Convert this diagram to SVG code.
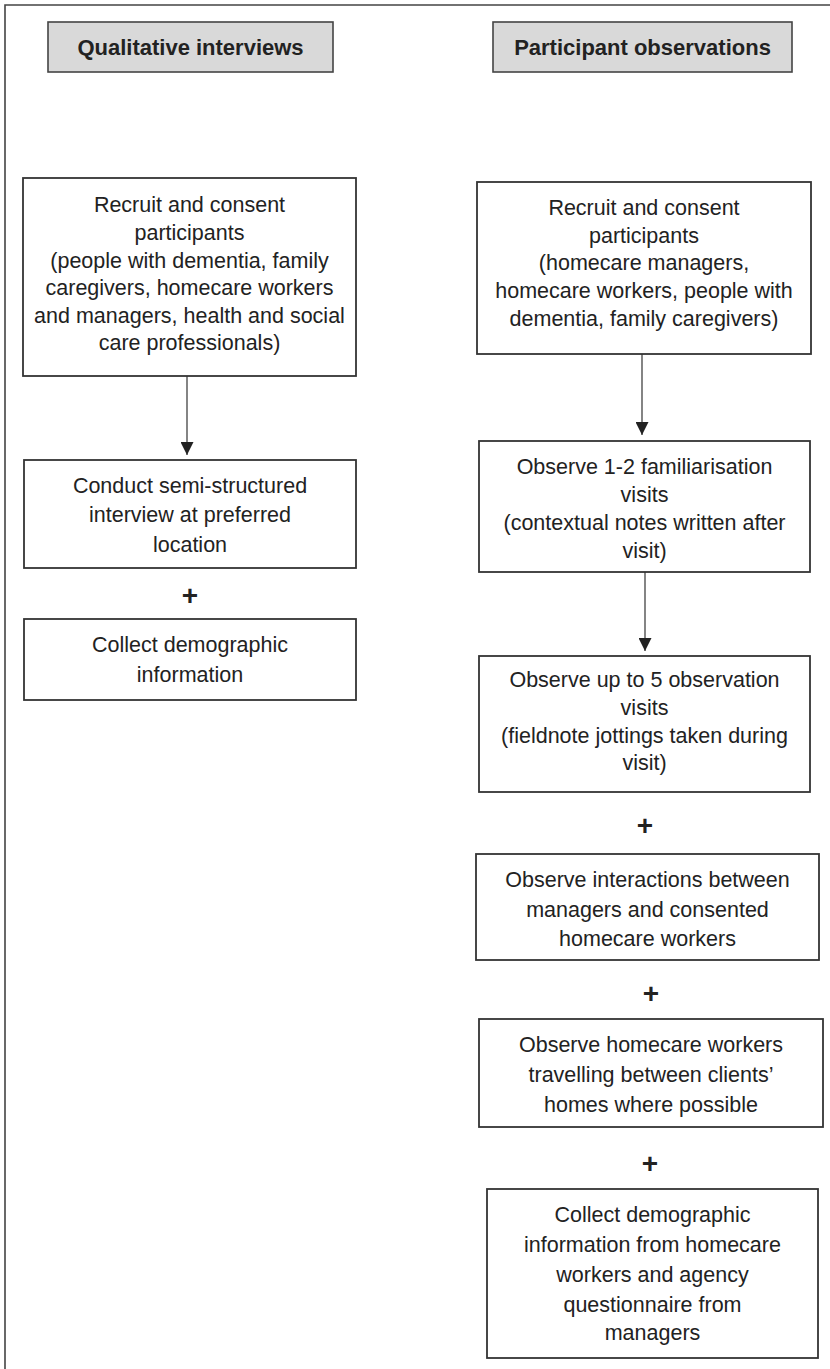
<svg xmlns="http://www.w3.org/2000/svg" width="830" height="1369" viewBox="0 0 830 1369">
<style>
.frame{stroke:#444;stroke-width:1.6;fill:none}
.box{fill:#fff;stroke:#333;stroke-width:1.8}
.hdr{fill:#d9d9d9;stroke:#444;stroke-width:1.6}
.ht{font-family:"Liberation Sans",Arial,sans-serif;font-weight:bold;font-size:22px;fill:#222;text-anchor:middle}
.t{font-family:"Liberation Sans",Arial,sans-serif;font-size:21.5px;fill:#222;text-anchor:middle}
.plus{font-family:"Liberation Sans",Arial,sans-serif;font-weight:bold;font-size:28px;fill:#222;text-anchor:middle}
.conn{stroke:#333;stroke-width:1.2;fill:none}
</style>
<defs>
<marker id="arr" markerWidth="13" markerHeight="13" refX="13" refY="6.5" orient="auto" markerUnits="userSpaceOnUse">
<path d="M0,0 L13,6.5 L0,13 Z" fill="#222"/>
</marker>
</defs>
<rect width="830" height="1369" fill="#fff"/>
<path class="frame" d="M5,1369 L5,5 L830,5"/>
<g id="hdr-left">
<rect class="hdr" x="48" y="22" width="285" height="50"/>
<text class="ht" x="190.5" y="55">Qualitative interviews</text>
</g>
<g id="hdr-right">
<rect class="hdr" x="493" y="22" width="299" height="50"/>
<text class="ht" x="642.5" y="55">Participant observations</text>
</g>
<g id="L1">
<rect class="box" x="23" y="178" width="333" height="198"/>
<text class="t" x="189.5" y="212">Recruit and consent</text>
<text class="t" x="189.5" y="240">participants</text>
<text class="t" x="189.5" y="268">(people with dementia, family</text>
<text class="t" x="189.5" y="295">caregivers, homecare workers</text>
<text class="t" x="189.5" y="323">and managers, health and social</text>
<text class="t" x="189.5" y="350">care professionals)</text>
</g>
<g id="L2">
<rect class="box" x="24" y="460" width="332" height="108"/>
<text class="t" x="190" y="493">Conduct semi-structured</text>
<text class="t" x="190" y="522">interview at preferred</text>
<text class="t" x="190" y="552">location</text>
</g>
<g id="plusL">
<text class="plus" x="190" y="605">+</text>
</g>
<g id="L3">
<rect class="box" x="24" y="619" width="332" height="81"/>
<text class="t" x="190" y="652">Collect demographic</text>
<text class="t" x="190" y="682">information</text>
</g>
<g id="R1">
<rect class="box" x="477" y="182" width="334" height="172"/>
<text class="t" x="644" y="215">Recruit and consent</text>
<text class="t" x="644" y="243">participants</text>
<text class="t" x="644" y="270">(homecare managers,</text>
<text class="t" x="644" y="298">homecare workers, people with</text>
<text class="t" x="644" y="326">dementia, family caregivers)</text>
</g>
<g id="R2">
<rect class="box" x="479" y="441" width="331" height="131"/>
<text class="t" x="644.5" y="474">Observe 1-2 familiarisation</text>
<text class="t" x="644.5" y="502">visits</text>
<text class="t" x="644.5" y="530">(contextual notes written after</text>
<text class="t" x="644.5" y="558">visit)</text>
</g>
<g id="R3">
<rect class="box" x="479" y="656" width="331" height="136"/>
<text class="t" x="644.5" y="687">Observe up to 5 observation</text>
<text class="t" x="644.5" y="715">visits</text>
<text class="t" x="644.5" y="743">(fieldnote jottings taken during</text>
<text class="t" x="644.5" y="770">visit)</text>
</g>
<g id="plusR1">
<text class="plus" x="645" y="835">+</text>
</g>
<g id="R4">
<rect class="box" x="476" y="854" width="343" height="106"/>
<text class="t" x="647.5" y="887">Observe interactions between</text>
<text class="t" x="647.5" y="917">managers and consented</text>
<text class="t" x="647.5" y="946">homecare workers</text>
</g>
<g id="plusR2">
<text class="plus" x="651" y="1003">+</text>
</g>
<g id="R5">
<rect class="box" x="479" y="1019" width="344" height="108"/>
<text class="t" x="651" y="1052">Observe homecare workers</text>
<text class="t" x="651" y="1082">travelling between clients’</text>
<text class="t" x="651" y="1112">homes where possible</text>
</g>
<g id="plusR3">
<text class="plus" x="650" y="1173">+</text>
</g>
<g id="R6">
<rect class="box" x="487" y="1189" width="331" height="169"/>
<text class="t" x="652.5" y="1222">Collect demographic</text>
<text class="t" x="652.5" y="1252">information from homecare</text>
<text class="t" x="652.5" y="1282">workers and agency</text>
<text class="t" x="652.5" y="1312">questionnaire from</text>
<text class="t" x="652.5" y="1340">managers</text>
</g>
<g id="connectors">
<line class="conn" x1="187" y1="376" x2="187" y2="455" marker-end="url(#arr)"/>
<line class="conn" x1="642" y1="354" x2="642" y2="435" marker-end="url(#arr)"/>
<line class="conn" x1="645" y1="572" x2="645" y2="651" marker-end="url(#arr)"/>
</g>
</svg>
